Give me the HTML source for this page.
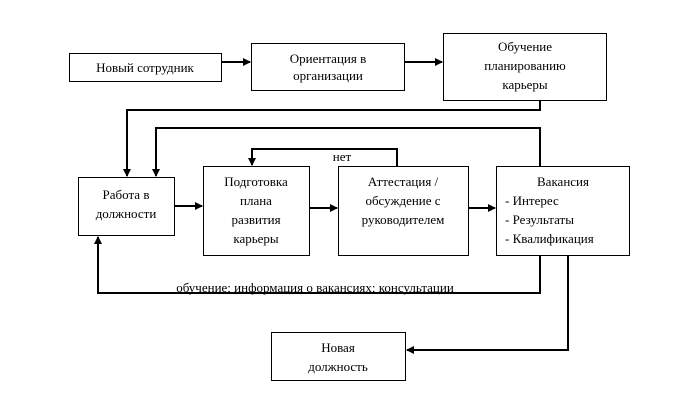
<!DOCTYPE html>
<html><head><meta charset="utf-8"><style>
body{margin:0;background:#fff}
svg text{font-family:"Liberation Serif",serif;font-size:13px;fill:#000}
</style></head><body>
<svg width="681" height="400" xmlns="http://www.w3.org/2000/svg">
<defs><marker id="a" markerWidth="8" markerHeight="8" refX="7" refY="4" orient="auto" markerUnits="userSpaceOnUse"><path d="M0,0 L8,4 L0,8 z" fill="#000"/></marker></defs>
<g fill="none" stroke="#000" stroke-width="1">
<rect x="69.5" y="53.5" width="152" height="28"/>
<rect x="251.5" y="43.5" width="153" height="47"/>
<rect x="443.5" y="33.5" width="163" height="67"/>
<rect x="78.5" y="177.5" width="96" height="58"/>
<rect x="203.5" y="166.5" width="106" height="89"/>
<rect x="338.5" y="166.5" width="130" height="89"/>
<rect x="496.5" y="166.5" width="133" height="89"/>
<rect x="271.5" y="332.5" width="134" height="48"/>
</g>
<g fill="none" stroke="#000" stroke-width="2" marker-end="url(#a)">
<path d="M222,62 H250"/>
<path d="M405,62 H442"/>
<path d="M540,101 V110 H127 V176"/>
<path d="M540,166 V128 H156 V176"/>
<path d="M175,206 H202"/>
<path d="M310,208 H337"/>
<path d="M469,208 H495"/>
<path d="M397,166 V149 H252 V165"/>
<path d="M540,256 V293 H98 V237"/>
<path d="M568,256 V350 H407"/>
</g>
<g text-anchor="middle">
<text x="145" y="72">Новый сотрудник</text>
<text x="328" y="63">Ориентация в</text>
<text x="328" y="80">организации</text>
<text x="525" y="51">Обучение</text>
<text x="525" y="70">планированию</text>
<text x="525" y="89">карьеры</text>
<text x="126" y="199">Работа в</text>
<text x="126" y="218">должности</text>
<text x="256" y="186">Подготовка</text>
<text x="256" y="205">плана</text>
<text x="256" y="224">развития</text>
<text x="256" y="243">карьеры</text>
<text x="403" y="186">Аттестация /</text>
<text x="403" y="205">обсуждение с</text>
<text x="403" y="224">руководителем</text>
<text x="563" y="186">Вакансия</text>
<text x="342" y="161">нет</text>
<text x="315" y="292">обучение; информация о вакансиях; консультации</text>
<text x="338" y="352">Новая</text>
<text x="338" y="371">должность</text>
</g>
<text x="505" y="205">- Интерес</text>
<text x="505" y="224">- Результаты</text>
<text x="505" y="243">- Квалификация</text>
</svg>
</body></html>
